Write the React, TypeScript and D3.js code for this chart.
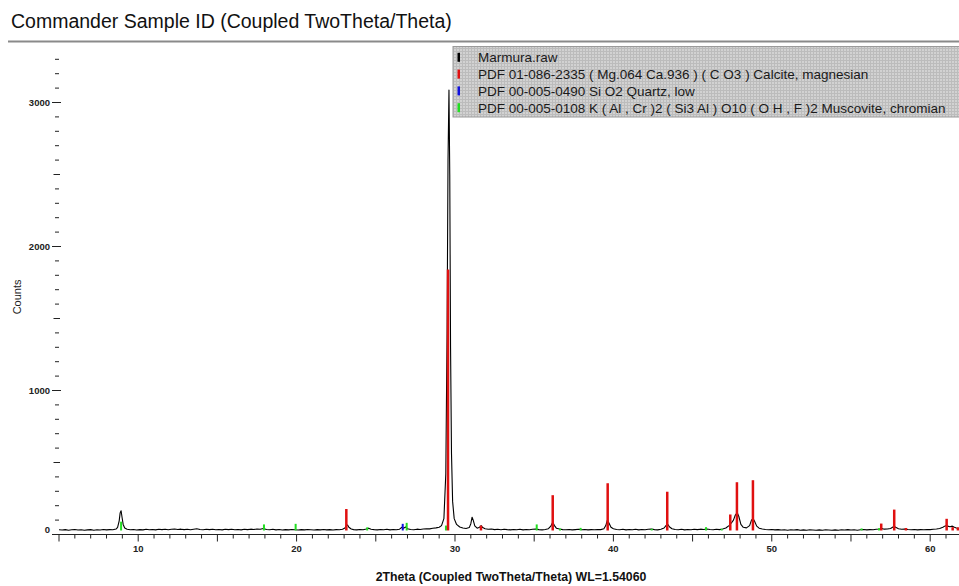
import React from "react";
import * as d3 from "d3";

const TITLE = "Commander Sample ID (Coupled TwoTheta/Theta)";
const X_LABEL = "2Theta (Coupled TwoTheta/Theta) WL=1.54060";
const Y_LABEL = "Counts";
const LEGEND_LABELS = [
  "Marmura.raw",
  "PDF 01-086-2335 ( Mg.064 Ca.936 ) ( C O3 ) Calcite, magnesian",
  "PDF 00-005-0490 Si O2 Quartz, low",
  "PDF 00-005-0108 K ( Al , Cr )2 ( Si3 Al ) O10 ( O H , F )2 Muscovite, chromian",
];
const LEGEND_COLORS = ["#000000", "#e01010", "#1010e0", "#22dd22"];

const X_TICK_LABELS = [10, 20, 30, 40, 50, 60];
const Y_TICK_LABELS = [0, 1000, 2000, 3000];

// Measured scan (2Theta, counts)
const rawScan: [number, number][] = [
  [5.0,33],[5.2,31],[5.4,34],[5.6,30],[5.8,33],[6.0,35],[6.2,31],[6.4,33],[6.6,29],[6.8,32],[7.0,34],[7.2,30],[7.4,33],[7.6,31],[7.8,35],[8.0,32],[8.2,34],[8.4,33],[8.6,38],[8.7,50],[8.8,95],[8.86,150],[8.92,165],[8.98,120],[9.05,70],[9.15,45],[9.3,36],[9.5,33],[9.7,35],[9.9,31],
  [10.1,34],[10.3,32],[10.5,36],[10.7,33],[10.9,35],[11.1,32],[11.3,36],[11.5,34],[11.7,37],[11.9,33],[12.1,36],[12.3,38],[12.5,35],[12.7,37],[12.9,34],[13.1,36],[13.3,33],[13.5,37],[13.7,40],[13.9,35],[14.1,33],[14.3,36],[14.5,34],[14.7,37],[14.9,33],
  [15.1,35],[15.3,32],[15.5,36],[15.7,34],[15.9,37],[16.1,33],[16.3,35],[16.5,32],[16.7,36],[16.9,34],[17.1,37],[17.3,35],[17.5,38],[17.7,36],[17.9,42],[18.1,35],[18.3,33],[18.5,36],[18.7,32],[18.9,35],[19.1,31],[19.3,34],[19.5,32],[19.7,35],[19.9,33],
  [20.1,31],[20.3,34],[20.5,32],[20.7,35],[20.9,33],[21.1,31],[21.3,34],[21.5,32],[21.7,35],[21.9,32],[22.1,34],[22.3,31],[22.5,34],[22.7,33],[22.9,36],[23.05,45],[23.15,62],[23.22,66],[23.3,50],[23.45,38],[23.6,34],[23.8,32],[24.0,35],[24.2,33],[24.4,38],[24.55,44],[24.7,37],[24.9,34],
  [25.1,32],[25.3,35],[25.5,33],[25.7,36],[25.9,32],[26.1,35],[26.3,33],[26.5,37],[26.65,50],[26.75,44],[26.88,52],[27.0,40],[27.2,35],[27.4,33],[27.6,37],[27.8,35],[28.0,38],[28.2,40],[28.4,39],[28.6,43],[28.8,46],[29.0,50],[29.15,62],[29.3,110],[29.42,420],[29.5,1400],[29.56,2600],[29.62,3087],[29.67,2500],[29.72,1300],[29.78,560],[29.85,230],[29.95,110],
  [30.1,70],[30.3,52],[30.5,45],[30.7,42],[30.9,48],[31.0,75],[31.08,120],[31.15,100],[31.25,60],[31.4,44],[31.55,50],[31.65,62],[31.75,48],[31.9,40],[32.1,36],[32.3,38],[32.5,34],[32.7,36],[32.9,33],[33.1,37],[33.3,34],[33.5,32],[33.7,35],[33.9,33],[34.1,36],[34.3,32],[34.5,35],[34.7,33],[34.9,36],
  [35.1,38],[35.3,34],[35.5,32],[35.7,35],[35.9,40],[36.05,58],[36.17,85],[36.28,62],[36.4,44],[36.6,38],[36.8,34],[37.0,33],[37.2,35],[37.4,32],[37.6,34],[37.8,36],[38.0,33],[38.2,35],[38.4,32],[38.6,34],[38.8,33],[39.0,35],[39.2,34],[39.4,40],[39.52,62],[39.62,100],[39.72,80],[39.85,50],
  [40.0,40],[40.2,35],[40.4,33],[40.6,36],[40.8,32],[41.0,35],[41.2,33],[41.4,36],[41.6,32],[41.8,35],[42.0,33],[42.2,36],[42.4,38],[42.6,34],[42.8,32],[43.0,36],[43.2,45],[43.32,62],[43.42,72],[43.55,52],[43.7,40],[43.9,35],[44.1,33],[44.3,36],[44.5,32],[44.7,35],[44.9,33],
  [45.1,36],[45.3,34],[45.5,37],[45.7,35],[45.9,38],[46.1,35],[46.3,33],[46.5,36],[46.7,34],[46.9,38],[47.1,45],[47.3,62],[47.45,80],[47.58,100],[47.7,135],[47.82,152],[47.92,125],[48.05,70],[48.2,50],[48.4,46],[48.6,62],[48.72,100],[48.82,112],[48.92,90],[49.05,58],[49.2,44],[49.4,38],[49.6,35],[49.8,33],
  [50.0,35],[50.2,32],[50.4,34],[50.6,31],[50.8,33],[51.0,30],[51.2,33],[51.4,31],[51.6,34],[51.8,30],[52.0,32],[52.2,30],[52.4,33],[52.6,31],[52.8,29],[53.0,32],[53.2,30],[53.4,33],[53.6,31],[53.8,29],[54.0,32],[54.2,30],[54.4,33],[54.6,31],[54.8,34],
  [55.0,31],[55.2,33],[55.4,30],[55.6,33],[55.8,35],[56.0,32],[56.2,34],[56.4,33],[56.6,36],[56.8,38],[56.95,42],[57.1,37],[57.3,38],[57.5,42],[57.65,52],[57.75,56],[57.85,48],[58.0,40],[58.2,36],[58.4,38],[58.6,35],[58.8,33],[59.0,35],[59.2,32],[59.4,34],[59.6,33],[59.8,35],
  [60.0,34],[60.2,36],[60.4,38],[60.6,42],[60.8,50],[60.95,60],[61.1,58],[61.25,54],[61.4,58],[61.5,52],[61.65,45],[61.82,42],
];

// Reference stick patterns (2Theta, top in counts)
const calciteSticks: [number, number][] = [
  [23.14,177],[29.56,1840],[31.64,62],[36.17,273],[39.64,356],[43.40,297],[47.38,139],[47.80,363],[48.81,377],[56.91,76],[57.73,173],[58.47,45],[61.04,109],[61.42,51],[61.75,50],
];
const quartzSticks: [number, number][] = [[26.70,74]];
const muscoviteSticks: [number, number][] = [
  [8.92,89],[17.94,70],[19.94,74],[24.46,50],[26.95,81],[29.43,62],[35.16,70],[36.63,42],[37.93,46],[42.42,40],[45.85,51],[46.84,40],[55.67,42],[56.77,44],
];

const W = 959;
const H = 586;
const FONT = "Arial, 'Liberation Sans', Helvetica, sans-serif";

export default function App() {
  const x = d3.scaleLinear().domain([5, 61.82]).range([59, 959]);
  const y = d3.scaleLinear().domain([0, 3350]).range([534.5, 52.1]);
  const line = d3
    .line<[number, number]>()
    .x((d) => x(d[0]))
    .y((d) => y(d[1]));

  const xMinor = d3.range(5, 62, 1);
  const yMinor = d3.range(0, 3301, 100);
  const stickBase = 28;

  const sticks = (data: [number, number][], color: string, w: number) =>
    data.map((d, i) => (
      <rect
        key={color + i}
        x={x(d[0]) - w / 2}
        y={y(d[1])}
        width={w}
        height={y(stickBase) - y(d[1])}
        fill={color}
      />
    ));

  return (
    <svg
      width={W}
      height={H}
      style={{ position: "absolute", left: 0, top: 0, background: "#fff" }}
      fontFamily={FONT}
    >
      <defs>
        <pattern id="mesh" width="3" height="3" patternUnits="userSpaceOnUse">
          <rect width="3" height="3" fill="#d2d2d2" />
          <rect width="3" height="1" fill="#bcbcbc" />
          <rect width="1" height="3" fill="#bcbcbc" />
        </pattern>
        <clipPath id="plotClip">
          <rect x={59} y={40} width={W - 59} height={500} />
        </clipPath>
      </defs>

      <text x={11} y={28} fontSize={19.5} fill="#111">
        {TITLE}
      </text>
      <line x1={8} x2={W} y1={41.5} y2={41.5} stroke="#8a8a8a" strokeWidth={2} />

      {/* Y axis ticks */}
      {yMinor.map((v) => {
        const major = v % 1000 === 0;
        const mid = !major && v % 500 === 0;
        const x1 = major ? 52 : mid ? 53.5 : 55;
        const x2 = major ? 61 : mid ? 60 : 59;
        return (
          <line key={"yt" + v} x1={x1} x2={x2} y1={y(v)} y2={y(v)} stroke="#222" strokeWidth={1} />
        );
      })}
      {Y_TICK_LABELS.map((v) => (
        <text
          key={"yl" + v}
          x={50}
          y={y(v) + (v === 0 ? -2 : 3.5)}
          textAnchor="end"
          fontSize={9.5}
          fontWeight="bold"
          fill="#222"
        >
          {v}
        </text>
      ))}
      <text
        transform={`translate(21,${y(1650)}) rotate(-90)`}
        textAnchor="middle"
        fontSize={11}
        fill="#222"
      >
        {Y_LABEL}
      </text>

      {/* X axis */}
      <line x1={59} x2={W} y1={y(0)} y2={y(0)} stroke="#222" strokeWidth={1} />
      {xMinor.map((v) => (
        <line
          key={"xt" + v}
          x1={x(v)}
          x2={x(v)}
          y1={y(0)}
          y2={y(0) + (v % 5 === 0 ? 7 : 4)}
          stroke="#222"
          strokeWidth={1}
        />
      ))}
      {X_TICK_LABELS.map((v) => (
        <text
          key={"xl" + v}
          x={x(v)}
          y={552}
          textAnchor="middle"
          fontSize={9.5}
          fontWeight="bold"
          fill="#222"
        >
          {v}
        </text>
      ))}
      <text x={511} y={581} textAnchor="middle" fontSize={12.3} fontWeight="bold" fill="#111">
        {X_LABEL}
      </text>

      <g clipPath="url(#plotClip)">
        <path d={line(rawScan) || ""} fill="none" stroke="#000" strokeWidth={1.1} strokeLinejoin="round" />
        {sticks(muscoviteSticks, LEGEND_COLORS[3], 2)}
        {sticks(quartzSticks, LEGEND_COLORS[2], 2)}
        {sticks(calciteSticks, LEGEND_COLORS[1], 2.5)}
      </g>

      {/* Legend */}
      <rect x={453} y={46.5} width={W - 452} height={70.5} fill="url(#mesh)" stroke="#9a9a9a" strokeWidth={1} />
      {LEGEND_LABELS.map((label, i) => {
        const cy = 57.3 + i * 16.8;
        return (
          <g key={"lg" + i}>
            <rect x={457.5} y={cy - 4.5} width={2.5} height={9} fill={LEGEND_COLORS[i]} />
            <text x={478} y={cy + 4.8} fontSize={13.5} fill="#1a1a1a">
              {label}
            </text>
          </g>
        );
      })}
    </svg>
  );
}
